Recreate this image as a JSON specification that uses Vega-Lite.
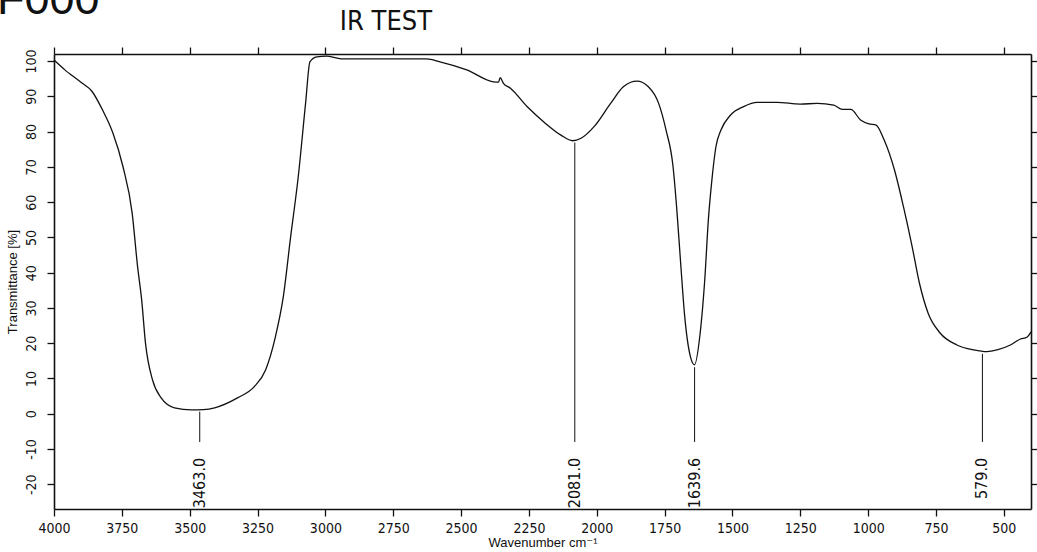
{
  "$schema": "https://vega.github.io/schema/vega-lite/v6.json",
  "autosize": "none",
  "width": 977,
  "height": 455,
  "padding": {"left": 54, "top": 54, "right": 6, "bottom": 43},
  "background": "white",
  "config": {
    "locale": {"number": {"decimal": ".", "thousands": ",", "grouping": [3], "currency": ["$", ""], "minus": "-"}},
    "view": {"stroke": null},
    "axis": {
      "grid": false,
      "domainColor": "#111",
      "domainWidth": 1.6,
      "tickColor": "#111",
      "tickWidth": 1.3,
      "tickSize": 7,
      "labelColor": "#111",
      "labelFont": "Liberation Sans Narrow, DejaVu Sans Condensed, sans-serif",
      "labelFontSize": 14,
      "titleColor": "#111",
      "titleFont": "Liberation Sans, DejaVu Sans, sans-serif",
      "titleFontSize": 13,
      "titleFontWeight": "normal"
    }
  },
  "datasets": {
    "spectrum": [
      {"wn": 4000, "t": 100.3}, {"wn": 3960, "t": 97.5}, {"wn": 3903, "t": 94.1}, {"wn": 3859, "t": 91.3},
      {"wn": 3821, "t": 86.1}, {"wn": 3783, "t": 79.6}, {"wn": 3746, "t": 70.1}, {"wn": 3712, "t": 56.9},
      {"wn": 3692, "t": 41.7}, {"wn": 3677, "t": 32.3}, {"wn": 3663, "t": 20.1}, {"wn": 3637, "t": 9.6},
      {"wn": 3605, "t": 4.5}, {"wn": 3556, "t": 1.7}, {"wn": 3493, "t": 1.1}, {"wn": 3450, "t": 1.2},
      {"wn": 3408, "t": 1.7}, {"wn": 3324, "t": 4.5}, {"wn": 3262, "t": 7.7}, {"wn": 3220, "t": 12.5},
      {"wn": 3184, "t": 21.9}, {"wn": 3155, "t": 33.2}, {"wn": 3128, "t": 50.2}, {"wn": 3100, "t": 67.2},
      {"wn": 3073, "t": 88.0}, {"wn": 3057, "t": 99.8}, {"wn": 3032, "t": 101.2}, {"wn": 2995, "t": 101.4},
      {"wn": 2960, "t": 100.9}, {"wn": 2935, "t": 100.6}, {"wn": 2848, "t": 100.6}, {"wn": 2725, "t": 100.6},
      {"wn": 2627, "t": 100.6}, {"wn": 2578, "t": 99.8}, {"wn": 2479, "t": 97.5}, {"wn": 2381, "t": 94.1},
      {"wn": 2362, "t": 94.0}, {"wn": 2356, "t": 95.3}, {"wn": 2344, "t": 93.7}, {"wn": 2318, "t": 92.3},
      {"wn": 2257, "t": 87.1}, {"wn": 2190, "t": 82.4}, {"wn": 2132, "t": 79.0}, {"wn": 2089, "t": 77.4},
      {"wn": 2058, "t": 78.1}, {"wn": 2010, "t": 81.4}, {"wn": 1949, "t": 88.0}, {"wn": 1902, "t": 92.7},
      {"wn": 1852, "t": 94.3}, {"wn": 1810, "t": 92.7}, {"wn": 1772, "t": 88.0}, {"wn": 1745, "t": 80.5},
      {"wn": 1719, "t": 70.1}, {"wn": 1705, "t": 57.8}, {"wn": 1690, "t": 41.7}, {"wn": 1676, "t": 27.6},
      {"wn": 1655, "t": 16.2}, {"wn": 1640, "t": 13.9}, {"wn": 1619, "t": 22.9}, {"wn": 1603, "t": 37.0},
      {"wn": 1588, "t": 55.9}, {"wn": 1577, "t": 65.4}, {"wn": 1561, "t": 75.7}, {"wn": 1542, "t": 80.5},
      {"wn": 1507, "t": 84.7}, {"wn": 1459, "t": 87.1}, {"wn": 1409, "t": 88.3}, {"wn": 1336, "t": 88.3},
      {"wn": 1250, "t": 87.8}, {"wn": 1188, "t": 88.0}, {"wn": 1127, "t": 87.5}, {"wn": 1095, "t": 86.3},
      {"wn": 1064, "t": 86.3}, {"wn": 1028, "t": 83.3}, {"wn": 997, "t": 82.2}, {"wn": 972, "t": 81.9},
      {"wn": 941, "t": 77.6}, {"wn": 903, "t": 69.1}, {"wn": 870, "t": 58.7}, {"wn": 838, "t": 47.4},
      {"wn": 811, "t": 37.0}, {"wn": 779, "t": 28.5}, {"wn": 735, "t": 22.9}, {"wn": 673, "t": 19.5},
      {"wn": 611, "t": 18.1}, {"wn": 562, "t": 17.6}, {"wn": 525, "t": 18.1}, {"wn": 476, "t": 19.5},
      {"wn": 439, "t": 21.2}, {"wn": 415, "t": 21.7}, {"wn": 400, "t": 23.2}
    ],
    "peaks": [
      {"wn": 3463.0, "label": "3463.0", "t": 0.6},
      {"wn": 2081.0, "label": "2081.0", "t": 76.9},
      {"wn": 1639.6, "label": "1639.6", "t": 13.2},
      {"wn": 579.0, "label": "579.0", "t": 17.0}
    ],
    "header": [
      {"label": "F000", "wn": 4210, "t": 113.3, "size": "big"},
      {"label": "IR TEST", "wn": 2777, "t": 108.8, "size": "title"}
    ]
  },
  "resolve": {"axis": {"x": "independent", "y": "independent"}},
  "layer": [
    {
      "data": {"name": "spectrum"},
      "mark": {"type": "line", "color": "#111", "strokeWidth": 1.3, "interpolate": "monotone"},
      "encoding": {
        "x": {
          "field": "wn", "type": "quantitative",
          "scale": {"domain": [4000, 400], "nice": false, "zero": false},
          "axis": {
            "orient": "bottom",
            "values": [4000, 3750, 3500, 3250, 3000, 2750, 2500, 2250, 2000, 1750, 1500, 1250, 1000, 750, 500],
            "format": "d",
            "labelFlush": false,
            "labelOverlap": false,
            "labelPadding": 5,
            "title": "Wavenumber cm⁻¹",
            "titlePadding": 1
          }
        },
        "y": {
          "field": "t", "type": "quantitative",
          "scale": {"domain": [-27, 102], "nice": false, "zero": false},
          "axis": {
            "orient": "left",
            "values": [-20, -10, 0, 10, 20, 30, 40, 50, 60, 70, 80, 90, 100],
            "format": "d",
            "labelAngle": 270,
            "labelAlign": "center",
            "labelBaseline": "bottom",
            "labelPadding": 9,
            "labelOverlap": false,
            "labelFlush": false,
            "title": "Transmittance [%]",
            "titlePadding": 5
          }
        }
      }
    },
    {
      "data": {"name": "peaks"},
      "mark": {"type": "rule", "color": "#111", "strokeWidth": 1},
      "encoding": {
        "x": {
          "field": "wn", "type": "quantitative",
          "axis": {
            "orient": "top",
            "values": [4000, 3750, 3500, 3250, 3000, 2750, 2500, 2250, 2000, 1750, 1500, 1250, 1000, 750, 500],
            "labels": false,
            "title": null
          }
        },
        "y": {
          "field": "t", "type": "quantitative",
          "axis": {
            "orient": "right",
            "values": [-20, -10, 0, 10, 20, 30, 40, 50, 60, 70, 80, 90, 100],
            "labels": false,
            "title": null
          }
        },
        "y2": {"datum": -8}
      }
    },
    {
      "data": {"name": "peaks"},
      "mark": {
        "type": "text", "angle": 270, "align": "right", "baseline": "middle",
        "font": "Liberation Sans Narrow, DejaVu Sans Condensed, sans-serif",
        "fontSize": 16, "color": "#111"
      },
      "encoding": {
        "x": {"field": "wn", "type": "quantitative", "axis": null},
        "y": {"datum": -12.5, "type": "quantitative", "axis": null},
        "text": {"field": "label"}
      }
    },
    {
      "data": {"name": "header"},
      "transform": [{"filter": "datum.size === 'big'"}],
      "mark": {
        "type": "text", "align": "left", "baseline": "alphabetic", "clip": false,
        "font": "Liberation Sans, Arial, sans-serif", "fontSize": 45, "color": "#111"
      },
      "encoding": {
        "x": {"field": "wn", "type": "quantitative", "axis": null},
        "y": {"field": "t", "type": "quantitative", "axis": null},
        "text": {"field": "label"}
      }
    },
    {
      "data": {"name": "header"},
      "transform": [{"filter": "datum.size === 'title'"}],
      "mark": {
        "type": "text", "align": "center", "baseline": "alphabetic", "clip": false,
        "font": "Liberation Sans Narrow, DejaVu Sans Condensed, sans-serif", "fontSize": 27, "color": "#111"
      },
      "encoding": {
        "x": {"field": "wn", "type": "quantitative", "axis": null},
        "y": {"field": "t", "type": "quantitative", "axis": null},
        "text": {"field": "label"}
      }
    }
  ]
}
